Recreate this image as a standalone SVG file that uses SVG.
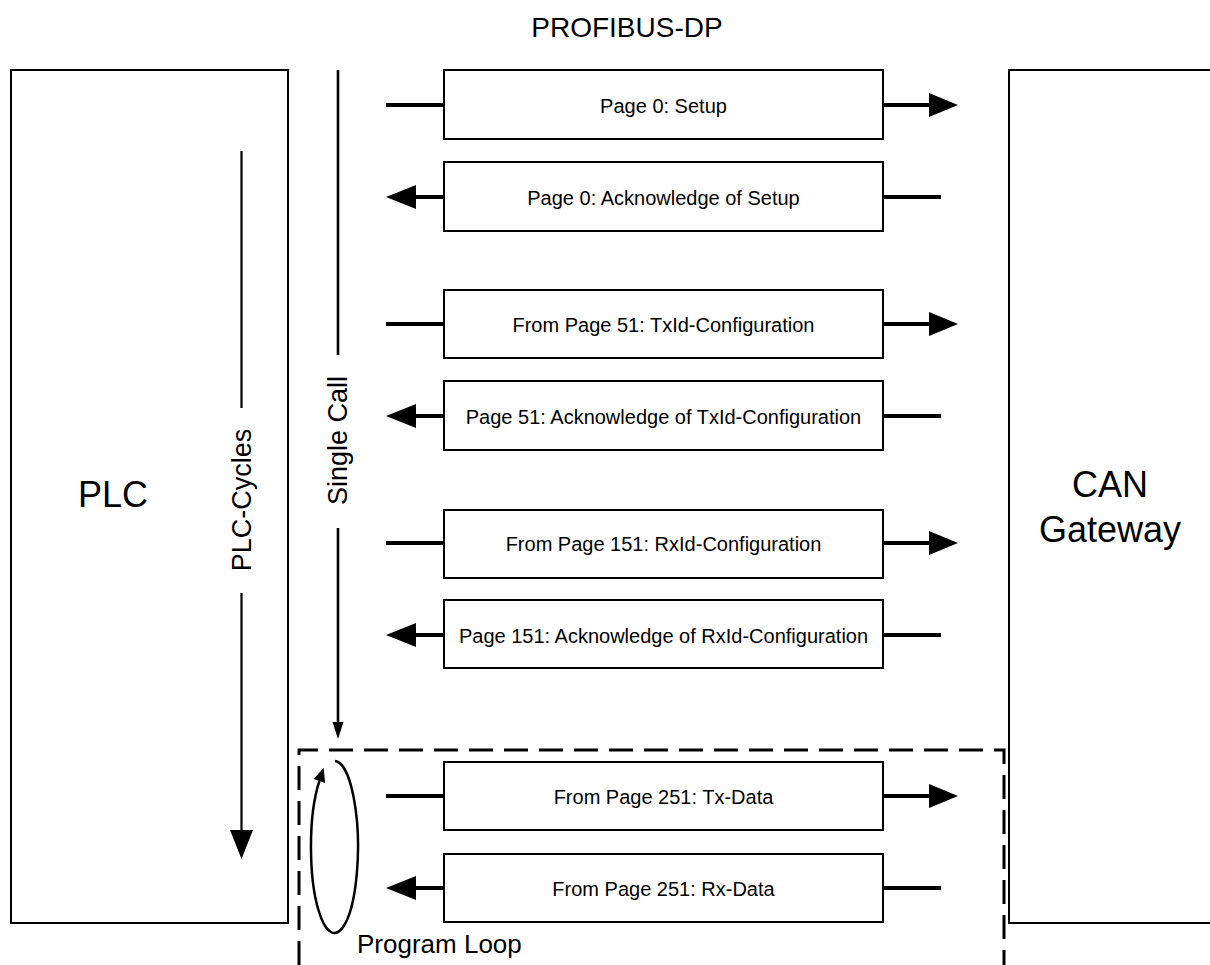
<svg xmlns="http://www.w3.org/2000/svg" width="1210" height="965" viewBox="0 0 1210 965">
<style>
text{font-family:"Liberation Sans",Arial,sans-serif;fill:#000}
.box{fill:#fff;stroke:#000;stroke-width:2}
.lbl{font-size:20px;text-anchor:middle}
.ln{stroke:#000;stroke-width:4;fill:none}
.thin{stroke:#000;stroke-width:2.2;fill:none}
.big{font-size:36px;text-anchor:middle}
.side{font-size:27px;text-anchor:middle}
</style>
<rect width="1210" height="965" fill="#fff"/>
<text x="627" y="37" style="font-size:28px;text-anchor:middle">PROFIBUS-DP</text>
<g id="plc">
<rect class="box" x="11" y="70" width="277" height="853"/>
<text class="big" x="113" y="507">PLC</text>
</g>
<g id="can">
<rect class="box" x="1009" y="70" width="215" height="853"/>
<text class="big" x="1110" y="497">CAN</text>
<text class="big" x="1110" y="542">Gateway</text>
</g>
<g id="plc-cycles">
<line class="thin" x1="241.5" y1="151" x2="241.5" y2="408"/>
<line class="thin" x1="241.5" y1="593" x2="241.5" y2="832"/>
<polygon points="230,830 253,830 241.5,859" fill="#000"/>
<text class="side" transform="translate(251,500) rotate(-90)">PLC-Cycles</text>
</g>
<g id="single-call">
<line class="thin" x1="338" y1="70" x2="338" y2="355" style="stroke-width:2.6"/>
<line class="thin" x1="338" y1="528" x2="338" y2="724" style="stroke-width:2.6"/>
<polygon points="332.5,722 343.5,722 338,739" fill="#000"/>
<text class="side" transform="translate(347,440.5) rotate(-90)">Single Call</text>
</g>
<g id="program-loop">
<path d="M299 965 L299 750 L1004 750 L1004 965" fill="none" stroke="#000" stroke-width="3" stroke-dasharray="24 11"/>
<path d="M335 761 A23.5 86 0 1 1 319.4 781" class="thin" style="stroke-width:2.5"/>
<polygon points="323.7,767.7 325.1,782.9 313.7,779.1" fill="#000"/>
<text x="357" y="953" style="font-size:26px">Program Loop</text>
</g>
<g id="connectors">
<line class="ln" x1="386" y1="105" x2="444" y2="105"/>
<line class="ln" x1="883" y1="105" x2="931" y2="105"/>
<polygon points="929,93 958,105 929,117" fill="#000"/>
<line class="ln" x1="414" y1="197" x2="444" y2="197"/>
<polygon points="416,185 386,197 416,209" fill="#000"/>
<line class="ln" x1="883" y1="197" x2="941" y2="197"/>
<line class="ln" x1="386" y1="324" x2="444" y2="324"/>
<line class="ln" x1="883" y1="324" x2="931" y2="324"/>
<polygon points="929,312 958,324 929,336" fill="#000"/>
<line class="ln" x1="414" y1="416" x2="444" y2="416"/>
<polygon points="416,404 386,416 416,428" fill="#000"/>
<line class="ln" x1="883" y1="416" x2="941" y2="416"/>
<line class="ln" x1="386" y1="543" x2="444" y2="543"/>
<line class="ln" x1="883" y1="543" x2="931" y2="543"/>
<polygon points="929,531 958,543 929,555" fill="#000"/>
<line class="ln" x1="414" y1="635" x2="444" y2="635"/>
<polygon points="416,623 386,635 416,647" fill="#000"/>
<line class="ln" x1="883" y1="635" x2="941" y2="635"/>
<line class="ln" x1="386" y1="796" x2="444" y2="796"/>
<line class="ln" x1="883" y1="796" x2="931" y2="796"/>
<polygon points="929,784 958,796 929,808" fill="#000"/>
<line class="ln" x1="414" y1="888" x2="444" y2="888"/>
<polygon points="416,876 386,888 416,900" fill="#000"/>
<line class="ln" x1="883" y1="888" x2="941" y2="888"/>
</g>
<g id="msg-setup"><rect class="box" x="444" y="70" width="439" height="69"/><text class="lbl" x="663.5" y="113">Page 0: Setup</text></g>
<g id="msg-ack-setup"><rect class="box" x="444" y="162" width="439" height="69"/><text class="lbl" x="663.5" y="205">Page 0: Acknowledge of Setup</text></g>
<g id="msg-txid"><rect class="box" x="444" y="290" width="439" height="68"/><text class="lbl" x="663.5" y="332">From Page 51: TxId-Configuration</text></g>
<g id="msg-ack-txid"><rect class="box" x="444" y="381" width="439" height="69"/><text class="lbl" x="663.5" y="424">Page 51: Acknowledge of TxId-Configuration</text></g>
<g id="msg-rxid"><rect class="box" x="444" y="510" width="439" height="68"/><text class="lbl" x="663.5" y="551">From Page 151: RxId-Configuration</text></g>
<g id="msg-ack-rxid"><rect class="box" x="444" y="600" width="439" height="68"/><text class="lbl" x="663.5" y="643">Page 151: Acknowledge of RxId-Configuration</text></g>
<g id="msg-tx"><rect class="box" x="444" y="762" width="439" height="68"/><text class="lbl" x="663.5" y="804">From Page 251: Tx-Data</text></g>
<g id="msg-rx"><rect class="box" x="444" y="854" width="439" height="68"/><text class="lbl" x="663.5" y="896">From Page 251: Rx-Data</text></g>
</svg>
